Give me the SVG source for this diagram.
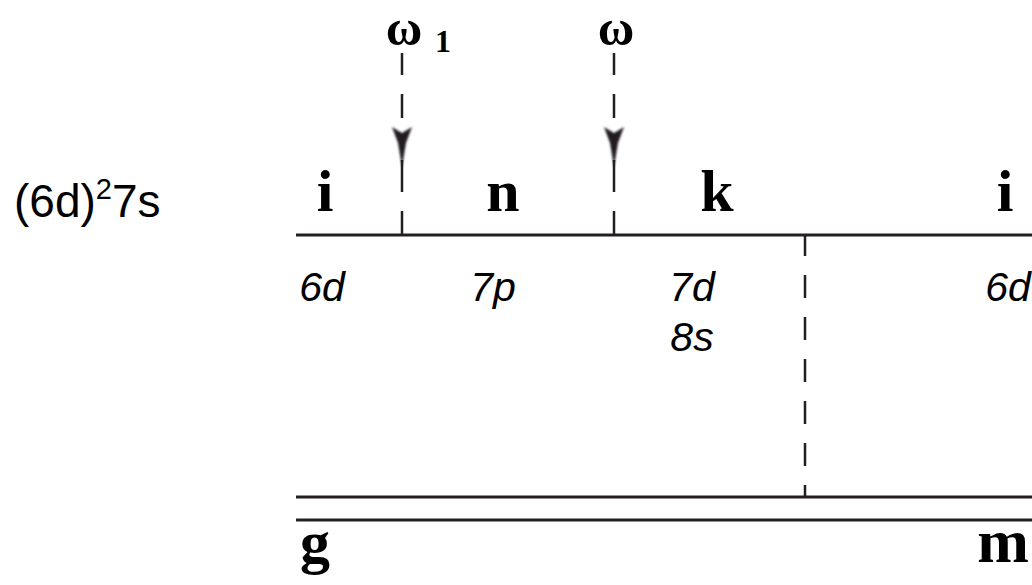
<svg xmlns="http://www.w3.org/2000/svg" width="1032" height="585" viewBox="0 0 1032 585">
  <style>
    .rule { stroke: #231f20; stroke-width: 3; fill: none; }
    .dash { stroke: #231f20; stroke-width: 2.5; fill: none; }
    .lbl { font-family: "Liberation Serif", "Times New Roman", serif; font-weight: bold; fill: #000; }
    .orb { font-family: "Liberation Sans", Arial, sans-serif; font-style: italic; font-size: 41px; fill: #000; }
    .cfg { font-family: "Liberation Sans", Arial, sans-serif; font-size: 46px; fill: #000; }
  </style>
  <defs>
    <filter id="soft" x="-50%" y="-20%" width="200%" height="140%">
      <feGaussianBlur stdDeviation="0.8"/>
    </filter>
    <path id="head" d="M -10 0 L 0 6 L 10 0 L 4 16 L 0 40 L -4 16 Z" fill="#231f20" filter="url(#soft)"/>
  </defs>

  <!-- configuration label -->
  <g id="config">
    <text class="cfg" x="14" y="217">(6d)<tspan font-size="29" dy="-18">2</tspan><tspan dy="18">7s</tspan></text>
  </g>

  <!-- horizontal levels -->
  <g id="levels">
    <line class="rule" x1="296" y1="235" x2="1032" y2="235"/>
    <line class="rule" x1="296" y1="497" x2="1032" y2="497"/>
    <line class="rule" x1="296" y1="520" x2="1032" y2="520"/>
  </g>

  <!-- photon arrows and the boundary divider -->
  <g id="connectors">
    <g id="photon-1">
      <line class="dash" x1="402" y1="53" x2="402" y2="75"/>
      <line class="dash" x1="402" y1="94" x2="402" y2="118"/>
      <line class="dash" x1="402" y1="160" x2="402" y2="192"/>
      <line class="dash" x1="402" y1="211" x2="402" y2="235"/>
      <use href="#head" x="402" y="127"/>
    </g>
    <g id="photon-2">
      <line class="dash" x1="614" y1="53" x2="614" y2="75"/>
      <line class="dash" x1="614" y1="94" x2="614" y2="118"/>
      <line class="dash" x1="614" y1="160" x2="614" y2="192"/>
      <line class="dash" x1="614" y1="211" x2="614" y2="235"/>
      <use href="#head" x="614" y="127"/>
    </g>
    <line id="divider" class="dash" x1="805" y1="235" x2="805" y2="497" stroke-dasharray="23 19" stroke-dashoffset="2"/>
  </g>

  <!-- photon labels -->
  <g id="omega1">
    <text class="lbl" x="404" y="45" font-size="50" text-anchor="middle">ω</text>
    <text class="lbl" x="443" y="52" font-size="32" text-anchor="middle">1</text>
  </g>
  <g id="omega">
    <text class="lbl" x="616" y="45" font-size="50" text-anchor="middle">ω</text>
  </g>

  <!-- region labels above the upper level -->
  <g id="region-i-left"><text class="lbl" x="325" y="211" font-size="60" text-anchor="middle">i</text></g>
  <g id="region-n"><text class="lbl" x="503" y="211" font-size="60" text-anchor="middle">n</text></g>
  <g id="region-k"><text class="lbl" x="717" y="211" font-size="60" text-anchor="middle">k</text></g>
  <g id="region-i-right"><text class="lbl" x="1005" y="211" font-size="60" text-anchor="middle">i</text></g>

  <!-- orbital labels -->
  <g id="orb-6d-left"><text class="orb" x="322" y="301" text-anchor="middle">6d</text></g>
  <g id="orb-7p"><text class="orb" x="493" y="301" text-anchor="middle">7p</text></g>
  <g id="orb-7d-8s">
    <text class="orb" x="692" y="301" text-anchor="middle">7d</text>
    <text class="orb" x="692" y="351" text-anchor="middle">8s</text>
  </g>
  <g id="orb-6d-right"><text class="orb" x="1008" y="301" text-anchor="middle">6d</text></g>

  <!-- lower level labels -->
  <g id="region-g"><text class="lbl" x="315" y="562" font-size="60" text-anchor="middle">g</text></g>
  <g id="region-m"><text class="lbl" x="1003" y="562" font-size="62" text-anchor="middle">m</text></g>
</svg>
